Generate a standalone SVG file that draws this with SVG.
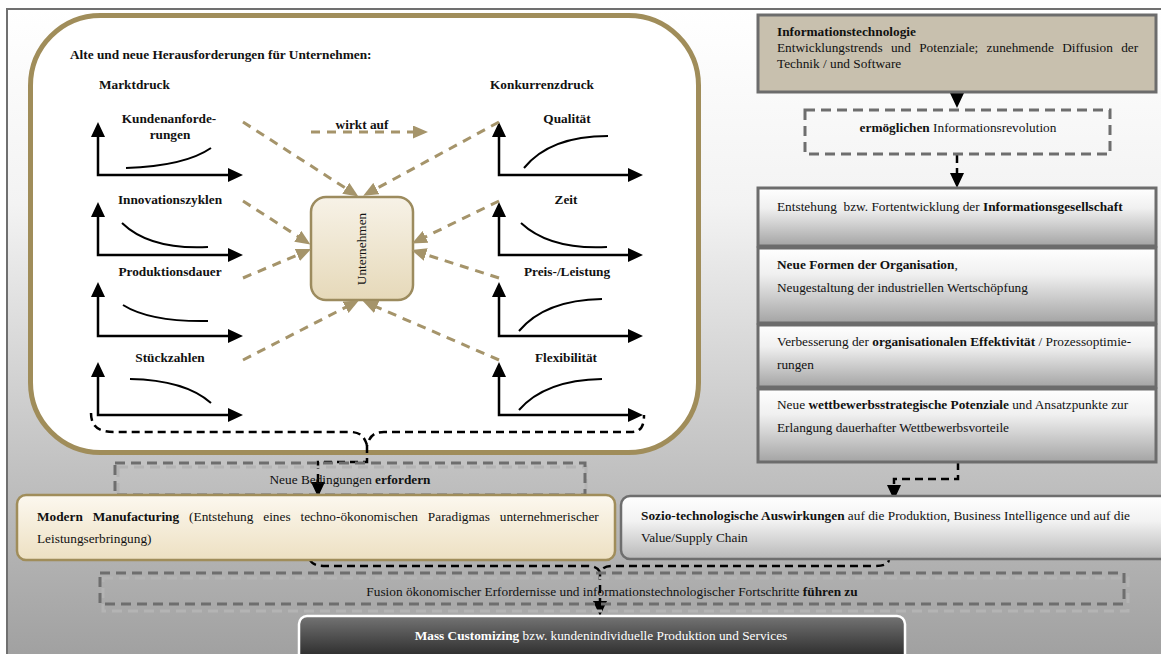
<svg xmlns="http://www.w3.org/2000/svg" width="1161" height="654" viewBox="0 0 1161 654">
<defs>
<linearGradient id="bg" x1="0" y1="0" x2="0" y2="1">
<stop offset="0" stop-color="#ffffff"/><stop offset="0.3" stop-color="#f3f3f3"/><stop offset="0.7" stop-color="#c2c2c2"/><stop offset="1" stop-color="#a0a0a0"/>
</linearGradient>
<linearGradient id="gbox" x1="0" y1="0" x2="0" y2="1">
<stop offset="0" stop-color="#ffffff"/><stop offset="0.35" stop-color="#f0f0f0"/><stop offset="1" stop-color="#a4a4a4"/>
</linearGradient>
<linearGradient id="cream" x1="0" y1="0" x2="0" y2="1">
<stop offset="0" stop-color="#fcf8ef"/><stop offset="1" stop-color="#ede0c2"/>
</linearGradient>
<linearGradient id="unt" x1="0" y1="0" x2="0" y2="1">
<stop offset="0" stop-color="#f7f2e7"/><stop offset="1" stop-color="#e6d9b9"/>
</linearGradient>
<linearGradient id="dark" x1="0" y1="0" x2="0" y2="1">
<stop offset="0" stop-color="#747474"/><stop offset="1" stop-color="#1c1c1c"/>
</linearGradient>
<linearGradient id="sozio" x1="0" y1="0" x2="0" y2="1">
<stop offset="0" stop-color="#ffffff"/><stop offset="0.4" stop-color="#f2f2f2"/><stop offset="1" stop-color="#b8b8b8"/>
</linearGradient>
<marker id="ab" viewBox="0 0 15 14" refX="5" refY="7" markerWidth="15" markerHeight="14" orient="auto-start-reverse" markerUnits="userSpaceOnUse">
<path d="M0,0 L15,7 L0,14 z" fill="#000"/>
</marker>
<marker id="at" viewBox="0 0 15 13" refX="5" refY="6.5" markerWidth="15" markerHeight="13" orient="auto" markerUnits="userSpaceOnUse">
<path d="M0,0 L15,6.5 L0,13 z" fill="#a5946a"/>
</marker>
<style>
text{font-family:"Liberation Serif","Times New Roman",serif;fill:#111;font-size:13.3px}
.b{font-weight:bold}
.c{text-anchor:middle}
.axis{fill:none;stroke:#000;stroke-width:2.5;marker-start:url(#ab);marker-end:url(#ab)}
.crv{fill:none;stroke:#000;stroke-width:2}
.tan{fill:none;stroke:#a5946a;stroke-width:3;stroke-dasharray:9 7;marker-end:url(#at)}
.rbox{fill:url(#gbox);stroke:#6c6c6c;stroke-width:3}
.dbox{fill:none;stroke:#6e6e6e;stroke-width:3;stroke-dasharray:10 6}
.dbox2{fill:none;stroke:#b4b4b4;stroke-width:3;stroke-dasharray:10 6}
.con{fill:none;stroke:#000;stroke-width:2.5;stroke-dasharray:8 5}
</style>
</defs>

<rect x="0" y="0" width="1161" height="654" fill="#ffffff"/>
<rect id="frame" x="7" y="9" width="1160" height="650" fill="url(#bg)" stroke="#707070" stroke-width="2"/>

<g id="challenges">
<rect x="30.5" y="15.5" width="668" height="437" rx="70" fill="#ffffff" stroke="#a08d5a" stroke-width="5"/>
<text x="70" y="59" class="b">Alte und neue Herausforderungen für Unternehmen:</text>
<text x="99" y="89" class="b">Marktdruck</text>
<text x="490" y="89" class="b">Konkurrenzdruck</text>
</g>

<g id="graph-kunden">
<text x="169" y="123" class="b c">Kundenanforde-</text>
<text x="170" y="139" class="b c">rungen</text>
<path class="axis" d="M98,132 L98,175 L233,175"/>
<path class="crv" d="M126,168 Q185,166 211,148"/>
</g>
<g id="graph-innovation">
<text x="170" y="204" class="b c">Innovationszyklen</text>
<path class="axis" d="M98,212 L98,255 L233,255"/>
<path class="crv" d="M122,223 Q150,250 208,247"/>
</g>
<g id="graph-produktion">
<text x="170" y="276" class="b c">Produktionsdauer</text>
<path class="axis" d="M98,292 L98,336 L233,336"/>
<path class="crv" d="M123,305 Q150,322 208,321"/>
</g>
<g id="graph-stueck">
<text x="170" y="362" class="b c">Stückzahlen</text>
<path class="axis" d="M98,372 L98,415 L233,415"/>
<path class="crv" d="M130,379 Q185,380 211,403"/>
</g>
<g id="graph-qualitaet">
<text x="567" y="123" class="b c">Qualität</text>
<path class="axis" d="M499,132 L499,175 L633,175"/>
<path class="crv" d="M524,168 Q550,136 608,136"/>
</g>
<g id="graph-zeit">
<text x="566" y="204" class="b c">Zeit</text>
<path class="axis" d="M499,212 L499,255 L633,255"/>
<path class="crv" d="M521,223 Q550,250 607,247"/>
</g>
<g id="graph-preis">
<text x="567" y="276" class="b c">Preis-/Leistung</text>
<path class="axis" d="M499,292 L499,336 L633,336"/>
<path class="crv" d="M519,331 Q545,300 602,299"/>
</g>
<g id="graph-flex">
<text x="566" y="362" class="b c">Flexibilität</text>
<path class="axis" d="M499,372 L499,415 L633,415"/>
<path class="crv" d="M519,410 Q545,380 602,379"/>
</g>

<g id="unternehmen">
<rect x="311" y="197" width="102" height="103" rx="15" fill="url(#unt)" stroke="#9c8b5e" stroke-width="2.5"/>
<text x="0" y="0" font-size="14" class="c" transform="translate(366,249) rotate(-90)">Unternehmen</text>
</g>

<g id="connectors">
<path class="tan" d="M311,132 L418,132"/>
<path class="tan" d="M243,122 L350,191"/>
<path class="tan" d="M499,122 L372,191"/>
<path class="tan" d="M243,201 L302,239"/>
<path class="tan" d="M243,278 L302,253"/>
<path class="tan" d="M499,201 L421,239"/>
<path class="tan" d="M499,278 L421,253"/>
<path class="tan" d="M243,360 L350,305"/>
<path class="tan" d="M499,360 L372,305"/>

<path class="con" d="M91,413 C91,428 100,432 115,432 L350,432 C360,432 364,436 367,445 C370,436 374,432 384,432 L630,432 C640,432 644,428 644,415"/>
<path class="con" style="marker-end:url(#ab)" d="M367,445 L367,462 L318,462 L318,487"/>

<path class="con" d="M310,560 C312,564 316,566 326,566 L588,566 C594,566 598,568 600,572 C602,568 606,566 612,566 L874,566 C884,566 888,564 889,560"/>
<path class="con" style="marker-end:url(#ab)" d="M600,572 L600,606"/>

<path fill="none" stroke="#000" stroke-width="2.5" marker-end="url(#ab)" d="M957,92 L957,98"/>
<path class="con" style="marker-end:url(#ab)" d="M957,155 L957,178"/>
<path class="con" style="marker-end:url(#ab)" d="M958,462 L958,479 L894,479 L894,490"/>
<text x="362" y="129" class="b c">wirkt auf</text>
</g>

<g id="it">
<rect x="758" y="15" width="398" height="77" fill="#c8c0ae" stroke="#6c6c6c" stroke-width="3"/>
<text x="777" y="36" class="b">Informationstechnologie</text>
<text x="777" y="52" word-spacing="5">Entwicklungstrends und Potenziale; zunehmende Diffusion der</text>
<text x="777" y="68">Technik / und Software</text>
</g>

<g id="ermoeglichen">
<rect x="805" y="110" width="305" height="44" class="dbox"/>
<text x="958" y="132" class="c"><tspan class="b">ermöglichen</tspan> Informationsrevolution</text>
</g>

<g id="entstehung">
<rect x="758" y="188" width="398" height="58" class="rbox"/>
<text x="777" y="211" xml:space="preserve">Entstehung  bzw. Fortentwicklung der <tspan class="b">Informationsgesellschaft</tspan></text>
</g>
<g id="formen">
<rect x="758" y="248" width="398" height="75" class="rbox"/>
<text x="777" y="269"><tspan class="b">Neue Formen der Organisation</tspan>,</text>
<text x="777" y="292">Neugestaltung der industriellen Wertschöpfung</text>
</g>
<g id="verbesserung">
<rect x="758" y="325" width="398" height="62" class="rbox"/>
<text x="777" y="346">Verbesserung der <tspan class="b">organisationalen Effektivität</tspan> / Prozessoptimie-</text>
<text x="777" y="369">rungen</text>
</g>
<g id="wettbewerb">
<rect x="758" y="389" width="398" height="73" class="rbox"/>
<text x="777" y="409">Neue <tspan class="b">wettbewerbsstrategische Potenziale</tspan> und Ansatzpunkte zur</text>
<text x="777" y="432">Erlangung dauerhafter Wettbewerbsvorteile</text>
</g>

<g id="bedingungen">
<rect x="118" y="467" width="468" height="33" class="dbox2"/>
<rect x="115" y="463" width="470" height="32" class="dbox"/>
<text x="350" y="484" class="c">Neue Bedingungen <tspan class="b">erfordern</tspan></text>
</g>

<g id="modern">
<rect x="17" y="495" width="598" height="65" rx="9" fill="url(#cream)" stroke="#a08d5a" stroke-width="2.5"/>
<text x="37" y="521" word-spacing="6.6"><tspan class="b">Modern Manufacturing</tspan> (Entstehung eines techno-ökonomischen Paradigmas unternehmerischer</text>
<text x="37" y="543">Leistungserbringung)</text>
</g>

<g id="sozio">
<rect x="621" y="496" width="560" height="63" rx="9" fill="url(#sozio)" stroke="#6e6e6e" stroke-width="2.5"/>
<text x="641" y="520"><tspan class="b">Sozio-technologische Auswirkungen</tspan> auf die Produktion, Business Intelligence und auf die</text>
<text x="641" y="542">Value/Supply Chain</text>
</g>

<g id="fusion">
<rect x="103" y="578" width="1025" height="33" class="dbox2"/>
<rect x="100" y="573" width="1024" height="31" class="dbox"/>
<text x="612" y="596" class="c">Fusion ökonomischer Erfordernisse und informationstechnologischer Fortschritte <tspan class="b">führen zu</tspan></text>
</g>

<g id="mass">
<rect x="299" y="616" width="606" height="50" rx="8" fill="url(#dark)" stroke="#ffffff" stroke-width="2.5"/>
<text x="601" y="640" class="c" style="fill:#ffffff"><tspan class="b" style="fill:#ffffff">Mass Customizing</tspan> bzw. kundenindividuelle Produktion und Services</text>
</g>
</svg>
